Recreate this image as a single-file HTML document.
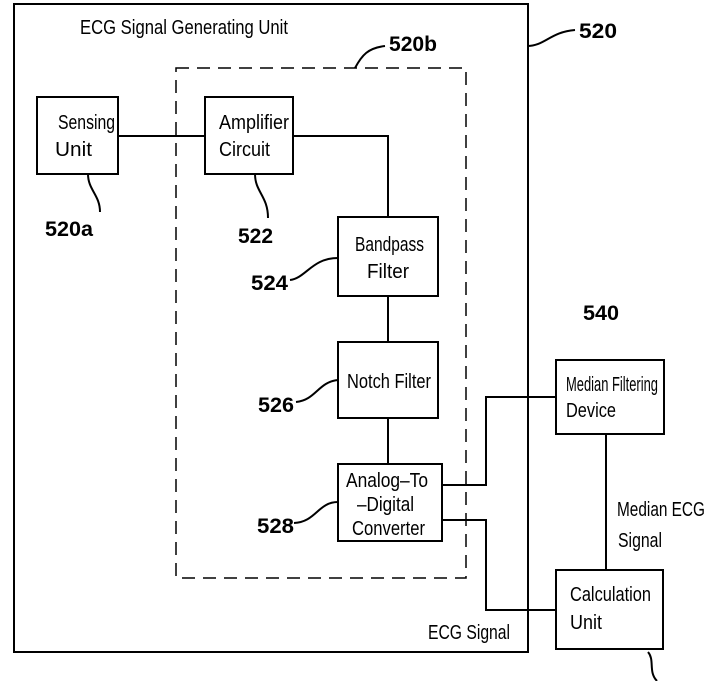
<!DOCTYPE html>
<html><head><style>body{margin:0;background:#fff}svg{display:block}</style></head><body>
<svg width="705" height="681" viewBox="0 0 705 681" xmlns="http://www.w3.org/2000/svg" font-family="Liberation Sans, sans-serif" font-size="20" fill="#000">
<g fill="none" stroke="#000" stroke-width="2">
<rect x="14" y="4" width="514" height="648"/>
<rect x="176" y="68" width="290" height="510" stroke-dasharray="13,8" stroke-width="1.5"/>
<rect x="37" y="97" width="81" height="77"/>
<rect x="205" y="97" width="88" height="77"/>
<rect x="338" y="217" width="100" height="79"/>
<rect x="338" y="342" width="100" height="76"/>
<rect x="338" y="464" width="104" height="77"/>
<rect x="556" y="360" width="108" height="74"/>
<rect x="556" y="570" width="107" height="79"/>
<path d="M118 136H205M293 136H388V217M388 296V342M388 418V464M442 485H486V397H556M442 520H486V610H556M606 434V570"/>
<path d="M527 46C545 46 550 32 575 30"/>
<path d="M355 68C362 55 368 48 385 46"/>
<path d="M88 174C88 190 100 195 100 212"/>
<path d="M255 174C255 192 268 196 268 218"/>
<path d="M290 280C306 278 312 258 338 258"/>
<path d="M296 402C316 400 318 382 338 380"/>
<path d="M294 523C316 522 318 502 338 502"/>
<path d="M648 652C655 660 648 672 657 681"/>
</g>
<text x="80" y="34" textLength="208" lengthAdjust="spacingAndGlyphs">ECG Signal Generating Unit</text>
<text x="58" y="129" textLength="57" lengthAdjust="spacingAndGlyphs">Sensing</text>
<text x="55" y="156" textLength="37" lengthAdjust="spacingAndGlyphs">Unit</text>
<text x="219" y="129" textLength="70" lengthAdjust="spacingAndGlyphs">Amplifier</text>
<text x="219" y="156" textLength="51" lengthAdjust="spacingAndGlyphs">Circuit</text>
<text x="355" y="251" textLength="69" lengthAdjust="spacingAndGlyphs">Bandpass</text>
<text x="367" y="278" textLength="42" lengthAdjust="spacingAndGlyphs">Filter</text>
<text x="347" y="388" textLength="84" lengthAdjust="spacingAndGlyphs">Notch Filter</text>
<text x="346" y="487" textLength="82" lengthAdjust="spacingAndGlyphs">Analog–To</text>
<text x="357" y="511" textLength="57" lengthAdjust="spacingAndGlyphs">–Digital</text>
<text x="352" y="535" textLength="73" lengthAdjust="spacingAndGlyphs">Converter</text>
<text x="566" y="391" textLength="92" lengthAdjust="spacingAndGlyphs">Median Filtering</text>
<text x="566" y="417" textLength="50" lengthAdjust="spacingAndGlyphs">Device</text>
<text x="570" y="601" textLength="81" lengthAdjust="spacingAndGlyphs">Calculation</text>
<text x="570" y="629" textLength="32" lengthAdjust="spacingAndGlyphs">Unit</text>
<text x="617" y="516" textLength="88" lengthAdjust="spacingAndGlyphs">Median ECG</text>
<text x="618" y="547" textLength="44" lengthAdjust="spacingAndGlyphs">Signal</text>
<text x="428" y="639" textLength="82" lengthAdjust="spacingAndGlyphs">ECG Signal</text>
<g font-weight="bold" font-size="21">
<text x="579" y="38" textLength="38" lengthAdjust="spacingAndGlyphs">520</text>
<text x="389" y="51" textLength="48" lengthAdjust="spacingAndGlyphs">520b</text>
<text x="45" y="236" textLength="48" lengthAdjust="spacingAndGlyphs">520a</text>
<text x="238" y="243" textLength="35" lengthAdjust="spacingAndGlyphs">522</text>
<text x="251" y="290" textLength="37" lengthAdjust="spacingAndGlyphs">524</text>
<text x="258" y="412" textLength="36" lengthAdjust="spacingAndGlyphs">526</text>
<text x="257" y="533" textLength="37" lengthAdjust="spacingAndGlyphs">528</text>
<text x="583" y="320" textLength="36" lengthAdjust="spacingAndGlyphs">540</text>
</g>
</svg>
</body></html>
